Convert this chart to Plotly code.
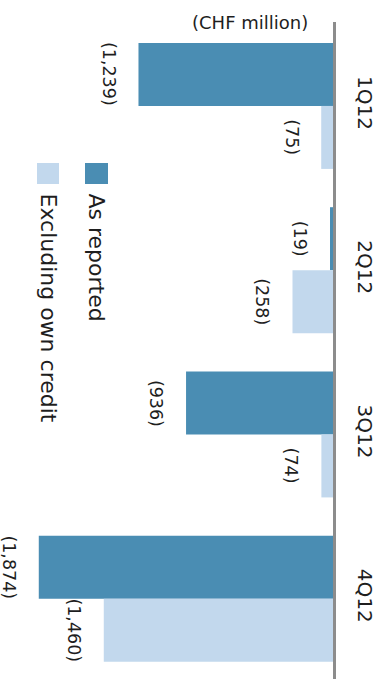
import plotly.graph_objects as go

# Quarterly results (CHF million), losses stored as negative values
quarters = ["1Q12", "2Q12", "3Q12", "4Q12"]
as_reported = [-1239, -19, -936, -1874]
excluding_own_credit = [-75, -258, -74, -1460]
series_names = ["As reported", "Excluding own credit"]
unit_label = "(CHF million)"

DARK = "#4a8db3"
LIGHT = "#c2d8ed"
FONT = "DejaVu Sans"
TEXT = "#1e1e1e"

W, H = 389, 679
M_L, M_R, M_T, M_B = 0, 56, 22, 0
BARGAP = 0.233


def paren(v):
    return "({:,})".format(abs(v))


fig = go.Figure()
fig.add_trace(go.Bar(
    y=quarters, x=as_reported, orientation="h", name=series_names[0],
    marker=dict(color=DARK, line=dict(width=0)), showlegend=False,
))
fig.add_trace(go.Bar(
    y=quarters, x=excluding_own_credit, orientation="h", name=series_names[1],
    marker=dict(color=LIGHT, line=dict(width=0)), showlegend=False,
))

# value labels, rotated to read top-to-bottom, placed left of each bar end
half = (1 - BARGAP) / 4
annotations = []
for i, (a, e) in enumerate(zip(as_reported, excluding_own_credit)):
    for val, off in ((a, -half), (e, half)):
        annotations.append(dict(
            x=val, y=i + off, xref="x", yref="y", text=paren(val),
            showarrow=False, textangle=90, xanchor="right", yanchor="middle",
            xshift=-18, font=dict(family=FONT, size=17.5, color=TEXT),
        ))

# unit caption above the bars
plot_w = W - M_L - M_R
plot_h = H - M_T - M_B


def px_x(px):
    return (px - M_L) / plot_w


def px_y(py):
    return 1 - (py - M_T) / plot_h


annotations.append(dict(
    x=px_x(250), y=px_y(22.5), xref="paper", yref="paper", text=unit_label,
    showarrow=False, xanchor="center", yanchor="middle",
    font=dict(family=FONT, size=18, color=TEXT),
))

# rotated legend: swatch above, text running downward
shapes = []
legend_items = [(series_names[0], DARK, 85, 108), (series_names[1], LIGHT, 37, 59)]
for name, color, x0, x1 in legend_items:
    shapes.append(dict(
        type="rect", xref="paper", yref="paper",
        x0=px_x(x0), x1=px_x(x1), y0=px_y(184), y1=px_y(163),
        fillcolor=color, line=dict(width=0),
    ))
    annotations.append(dict(
        x=px_x((x0 + x1) / 2), y=px_y(191), xref="paper", yref="paper",
        text=name, showarrow=False, textangle=90,
        xanchor="center", yanchor="top",
        font=dict(family=FONT, size=22, color=TEXT),
    ))

fig.update_layout(
    width=W, height=H,
    margin=dict(l=M_L, r=M_R, t=M_T, b=M_B),
    paper_bgcolor="white", plot_bgcolor="white",
    barmode="group", bargap=BARGAP, bargroupgap=0,
    annotations=annotations, shapes=shapes,
    showlegend=False,
)
fig.update_xaxes(
    range=[-2121, 0], showgrid=False, zeroline=False,
    showticklabels=False, showline=False, ticks="",
)
fig.update_yaxes(
    range=[3.489, -0.511], side="right", showgrid=False, zeroline=False,
    showline=True, linecolor="#8c8c8c", linewidth=2.5, ticks="",
    tickangle=90, ticklabelstandoff=14,
    tickfont=dict(family=FONT, size=20, color=TEXT),
)

fig.write_html("out.html")
